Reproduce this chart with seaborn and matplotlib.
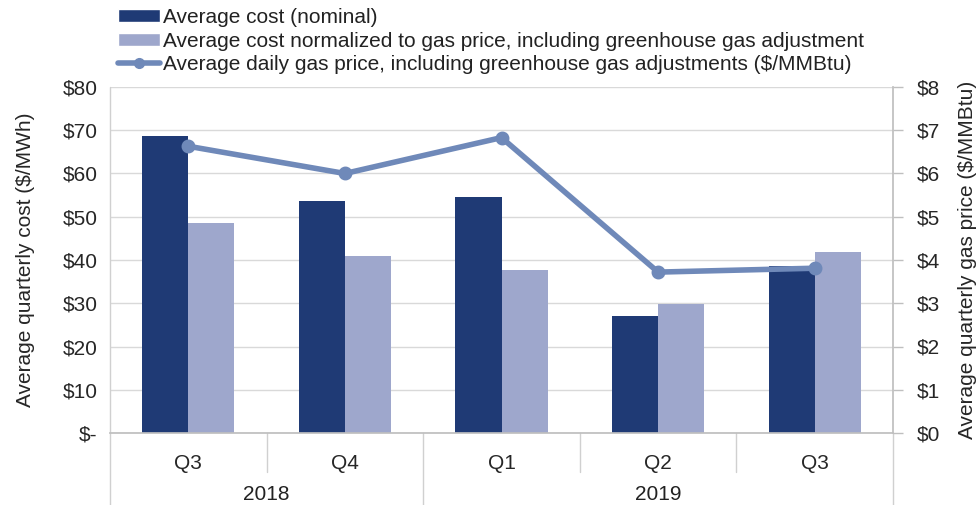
import matplotlib
matplotlib.use("Agg")
import matplotlib.pyplot as plt
import matplotlib.transforms as mtransforms
from matplotlib.patches import Patch
from matplotlib.lines import Line2D
import seaborn as sns
import pandas as pd

categories = ["2018 Q3", "2018 Q4", "2019 Q1", "2019 Q2", "2019 Q3"]
quarter_labels = ["Q3", "Q4", "Q1", "Q2", "Q3"]
years = ["2018", "2019"]
year_spans = [(0, 2), (2, 5)]
nominal = [68.7, 53.7, 54.5, 27.0, 38.6]
normalized = [48.6, 41.0, 37.8, 29.8, 41.9]
gas_price = [6.63, 6.00, 6.83, 3.72, 3.81]

s_nom = "Average cost (nominal)"
s_norm = "Average cost normalized to gas price, including greenhouse gas adjustment"
s_gas = "Average daily gas price, including greenhouse gas adjustments ($/MMBtu)"

c_nom = "#1f3a75"
c_norm = "#9ea7cc"
c_gas = "#6f89b9"
FS = 15

sns.set_theme(style="white")
plt.rcParams["font.family"] = ["Liberation Sans", "DejaVu Sans"]
plt.rcParams["text.color"] = "#222222"

df = pd.DataFrame({
    "cat": categories * 2,
    "val": nominal + normalized,
    "series": [s_nom] * 5 + [s_norm] * 5,
})
gdf = pd.DataFrame({"cat": categories, "gas": gas_price})

fig = plt.figure(figsize=(9.77, 5.05), dpi=100)
ax = fig.add_axes([110 / 977, (505 - 433) / 505, (893 - 110) / 977, (433 - 87) / 505])

sns.barplot(data=df, x="cat", y="val", hue="series", order=categories,
            hue_order=[s_nom, s_norm], palette=[c_nom, c_norm],
            width=0.59, gap=0, ax=ax, legend=False, saturation=1, linewidth=0)

ax.set_ylim(0, 80)
ax.set_yticks(range(0, 81, 10))
ax.set_yticklabels(["$-"] + [f"${v}" for v in range(10, 81, 10)], fontsize=FS)
ax.set_xlim(-0.5, 4.5)
ax.set_xticks(range(5))
ax.set_xticklabels(quarter_labels, fontsize=FS)
ax.tick_params(axis="x", length=0, pad=15)
ax.tick_params(axis="y", length=0, pad=9)
ax.grid(axis="y", color="#d9d9d9", linewidth=1)
ax.set_axisbelow(True)
ax.set_xlabel("")
ax.set_ylabel("Average quarterly cost ($/MWh)", fontsize=FS, labelpad=20)
for side in ["top", "left", "right"]:
    ax.spines[side].set_visible(False)
ax.spines["bottom"].set_color("#bfbfbf")

ax2 = ax.twinx()
ax2.set_position(ax.get_position())
sns.pointplot(data=gdf, x="cat", y="gas", order=categories, color=c_gas,
              markers="o", markersize=7, linewidth=4, ax=ax2)
ax2.set_ylim(0, 8)
ax2.set_yticks(range(0, 9))
ax2.set_yticklabels([f"${v}" for v in range(0, 9)], fontsize=FS)
ax2.tick_params(axis="y", length=7, color="#bfbfbf", pad=10, width=1)
ax2.set_ylabel("Average quarterly gas price ($/MMBtu)", fontsize=FS, labelpad=13)
ax2.set_xlabel("")
ax2.set_xlim(-0.5, 4.5)
for side in ["top", "left", "bottom"]:
    ax2.spines[side].set_visible(False)
ax2.spines["right"].set_color("#bfbfbf")

# multi-level category axis
trans = mtransforms.blended_transform_factory(ax.transData, fig.transFigure)
y_axis = (505 - 433) / 505
y_q = (505 - 472) / 505
for b in [1, 3, 4]:
    ax.plot([b - 0.5, b - 0.5], [y_axis, y_q], transform=trans, color="#d0d0d0",
            lw=1, clip_on=False)
for b in [0, 2, 5]:
    ax.plot([b - 0.5, b - 0.5], [y_axis, 0], transform=trans, color="#d0d0d0",
            lw=1, clip_on=False)
ax.plot([-0.5, -0.5], [y_axis, 1 - 87 / 505], transform=trans, color="#d0d0d0",
        lw=1, clip_on=False)
for yr, (a, b) in zip(years, year_spans):
    ax.text((a + b - 1) / 2, (505 - 494) / 505, yr, transform=trans,
            ha="center", va="center", fontsize=FS)

handles = [
    Patch(facecolor=c_nom, label=s_nom),
    Patch(facecolor=c_norm, label=s_norm),
    Line2D([0], [0], color=c_gas, lw=4, marker="o", markersize=7, label=s_gas),
]
fig.legend(handles=handles, loc="upper left", bbox_to_anchor=(118 / 977, 1 - 8 / 505),
           frameon=False, fontsize=FS, handlelength=2.0, handleheight=0.6,
           handletextpad=0.15, labelspacing=0.22, borderaxespad=0, borderpad=0)

fig.savefig("out.png", dpi=100)
